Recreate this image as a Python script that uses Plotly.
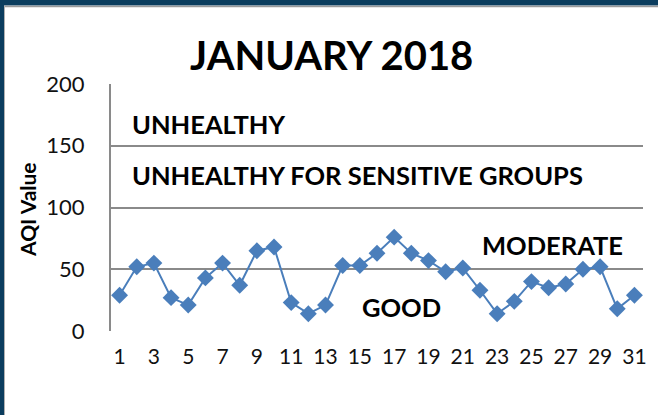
import plotly.graph_objects as go

days = list(range(1, 32))
aqi = [29, 52, 55, 27, 21, 43, 55, 37, 65, 68, 23, 14, 21, 53, 53, 63,
       76, 63, 57, 48, 51, 33, 14, 24, 40, 35, 38, 50, 52, 18, 29]
x_tick_vals = list(range(1, 32, 2))
y_tick_vals = [0, 50, 100, 150, 200]
zone_labels = ["UNHEALTHY", "UNHEALTHY FOR SENSITIVE GROUPS", "MODERATE", "GOOD"]
zone_label_x = [1.6, 1.6, 22.0, 15.0]
zone_label_y = [168, 126, 70, 19.5]

L, R, T, B = 111, 15, 84, 84
W, H = 658, 415
PW, PH = W - L - R, H - T - B

def px(xp):
    return (xp - L) / PW

def py(yp):
    return (H - B - yp) / PH

FONT = "Lato"
BLUE = "#4a7ebb"
GRID = "#8a8a8a"

fig = go.Figure()
fig.add_trace(go.Scatter(
    x=days, y=aqi, mode="lines+markers",
    line=dict(color=BLUE, width=2),
    marker=dict(symbol="diamond", size=13, color=BLUE),
    showlegend=False, hoverinfo="skip"))

for txt, xx, yy in zip(zone_labels, zone_label_x, zone_label_y):
    fig.add_annotation(x=xx, y=yy, xref="x", yref="y", text="<b>%s</b>" % txt,
                       showarrow=False, xanchor="left", yanchor="middle",
                       font=dict(family=FONT, size=25.5, color="#000000"))

fig.add_annotation(x=px(331.5), y=py(55), xref="paper", yref="paper",
                   text="<b>JANUARY 2018</b>", showarrow=False,
                   xanchor="center", yanchor="middle",
                   font=dict(family=FONT, size=40, color="#000000"))
fig.add_annotation(x=px(27), y=py(210), xref="paper", yref="paper",
                   text="<b>AQI Value</b>", showarrow=False, textangle=-90,
                   xanchor="center", yanchor="middle",
                   font=dict(family=FONT, size=21, color="#000000"))

# frame bands
fig.add_shape(type="rect", xref="paper", yref="paper", x0=px(0), x1=px(W),
              y0=py(5.5), y1=py(0), fillcolor="#0b3d5e", line_width=0, layer="above")
fig.add_shape(type="line", xref="paper", yref="paper", x0=px(0), x1=px(W),
              y0=py(6.5), y1=py(6.5), line=dict(color="#9a9a9a", width=1.5))
fig.add_shape(type="rect", xref="paper", yref="paper", x0=px(0), x1=px(4),
              y0=py(H), y1=py(0), fillcolor="#0b3d5e", line_width=0, layer="above")
fig.add_shape(type="line", xref="paper", yref="paper", x0=px(4.5), x1=px(4.5),
              y0=py(H), y1=py(6), line=dict(color="#b0b0b0", width=1))

fig.update_layout(
    width=W, height=H,
    margin=dict(l=L, r=R, t=T, b=B),
    paper_bgcolor="white", plot_bgcolor="white",
    font=dict(family=FONT, color="#000000"),
    xaxis=dict(range=[0.5, 31.5], tickvals=x_tick_vals, ticks="",
               showgrid=False, zeroline=False, showline=False,
               tickfont=dict(family=FONT, size=21, color="#111111"),
               ticklabelstandoff=11, fixedrange=True),
    yaxis=dict(range=[0, 200], tickvals=y_tick_vals, ticks="",
               showgrid=True, gridcolor=GRID, gridwidth=2,
               zeroline=False, showline=True, linecolor=GRID, linewidth=2,
               tickfont=dict(family=FONT, size=22, color="#111111"),
               ticklabelstandoff=20, fixedrange=True),
)

fig.write_html("out.html", config={"displayModeBar": False},
               post_script="document.body.style.margin='0';document.body.style.overflow='hidden';")
